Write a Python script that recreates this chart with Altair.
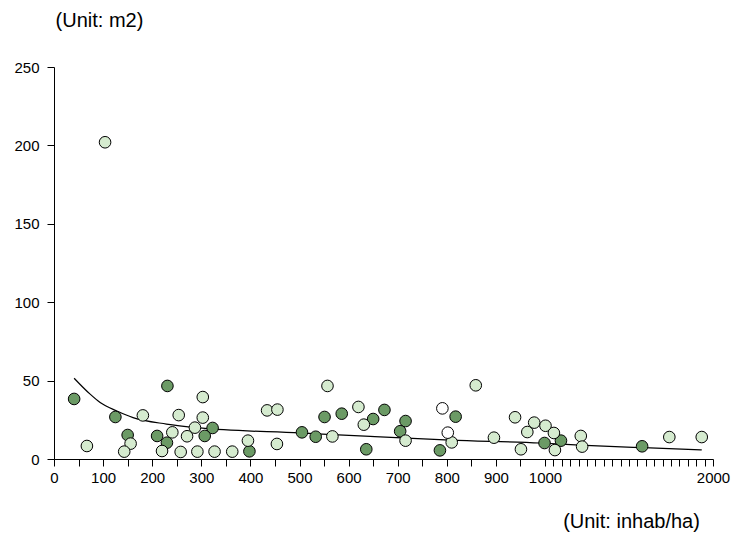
import altair as alt
import pandas as pd

# Dark green points (density, area)
dark_x = [41, 125, 150, 231, 210, 230, 323, 307, 398, 505, 533, 551, 586, 650, 636,
          673, 716, 705, 818, 786, 999, 1095, 1578]
dark_y = [38.3, 26.8, 15.3, 46.6, 14.7, 10.4, 19.8, 14.7, 4.9, 17.0, 14.2, 26.8, 28.9,
          25.5, 6.2, 31.3, 24.2, 17.7, 27.0, 5.5, 10.2, 11.7, 8.1]

# Light green points
light_x = [67, 104, 181, 156, 143, 303, 254, 303, 241, 220, 258, 271, 287, 292, 327,
           363, 395, 434, 455, 454, 567, 557, 620, 631, 716, 810, 859, 896, 939, 978,
           964, 951, 1003, 1053, 1059, 1213, 1221, 1740, 1933]
light_y = [8.3, 202.0, 27.8, 9.8, 4.7, 39.5, 28.0, 26.4, 17.0, 5.1, 4.5, 14.5, 20.0,
           4.7, 4.7, 4.7, 11.7, 31.0, 31.5, 9.6, 14.4, 46.6, 33.2, 21.9, 11.7, 10.6,
           47.0, 13.6, 26.6, 23.2, 17.2, 6.2, 21.2, 16.6, 5.7, 14.7, 7.9, 14.0, 14.0]

# White points
white_x = [791, 802]
white_y = [32.3, 16.8]

# Trend curve
trend_x = [41, 73, 94, 128, 161, 229, 297, 501, 644, 807, 990, 1207, 1588, 1933]
trend_y = [51.5, 41.5, 36.0, 30.6, 26.4, 22.3, 19.8, 16.6, 14.4, 12.1, 10.2, 8.9, 7.2, 5.8]

x_ticks = list(range(0, 2001, 50))
y_ticks = [0, 50, 100, 150, 200, 250]

groups = ["dark", "light", "white"]
colors = ["#6b9a65", "#d5ebcf", "#ffffff"]

rows = []
for g, xs, ys in [("dark", dark_x, dark_y), ("light", light_x, light_y), ("white", white_x, white_y)]:
    for a, b in zip(xs, ys):
        rows.append({"x": a, "y": b, "g": g})
df = pd.DataFrame(rows)
trend_df = pd.DataFrame({"x": trend_x, "y": trend_y})

FONT = "Liberation Sans"

xscale = alt.Scale(domain=[0, 1000, 2000], range=[0, 491, 659], nice=False, zero=False)
yscale = alt.Scale(domain=[0, 250], nice=False)

xaxis = alt.Axis(
    values=x_ticks,
    tickCount=100,
    labelExpr="(datum.value <= 1000 && datum.value % 100 == 0) || datum.value == 2000 ? datum.label : ''",
    format="d",
    labelOverlap=False,
    labelFlush=False,
    grid=False,
    tickSize=7,
    tickColor="black",
    domainColor="black",
    labelFontSize=15,
    labelColor="black",
    labelPadding=4,
    title="(Unit: inhab/ha)",
    titleX=577,
    titleY=62,
    titleAlign="center",
    titleBaseline="middle",
    titleFontSize=20,
    titleFontWeight="normal",
    titleColor="black",
)

yaxis = alt.Axis(
    values=y_ticks,
    tickCount=100,
    grid=False,
    tickSize=7,
    tickColor="black",
    domainColor="black",
    labelFontSize=15,
    labelColor="black",
    labelPadding=8,
    title="(Unit: m2)",
    titleAngle=0,
    titleX=45,
    titleY=-47,
    titleAlign="center",
    titleBaseline="middle",
    titleFontSize=20,
    titleFontWeight="normal",
    titleColor="black",
)

points = alt.Chart(df).mark_point(
    filled=True, size=135, stroke="black", strokeWidth=1, opacity=1, shape="circle"
).encode(
    x=alt.X("x:Q", scale=xscale, axis=xaxis),
    y=alt.Y("y:Q", scale=yscale, axis=yaxis),
    fill=alt.Fill("g:N", scale=alt.Scale(domain=groups, range=colors), legend=None),
)

trend = alt.Chart(trend_df).mark_line(
    color="black", strokeWidth=1.2, interpolate="monotone"
).encode(
    x=alt.X("x:Q", scale=xscale),
    y=alt.Y("y:Q", scale=yscale),
)

chart = alt.layer(trend, points).properties(
    width=659,
    height=392,
    autosize=alt.AutoSizeParams(type="none"),
    padding={"left": 54, "top": 67, "right": 19, "bottom": 74},
    background="white",
).configure(font=FONT).configure_view(stroke="transparent", strokeWidth=0)

chart.save("out.html", embed_options={"renderer": "svg", "actions": False})
